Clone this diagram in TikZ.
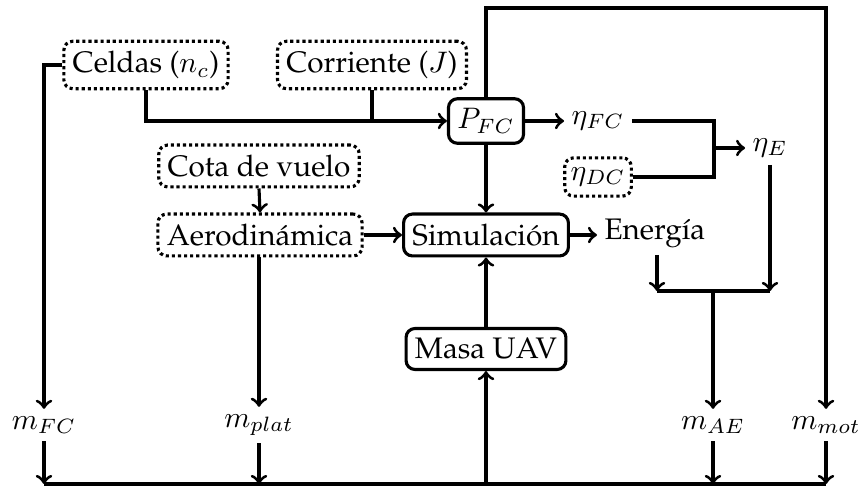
\documentclass[tikz,border=0pt]{standalone}
\usepackage[T1]{fontenc}
\usepackage{palatino}
\begin{document}
\begin{tikzpicture}[x=0.337pt,y=-0.337pt,line width=1.05pt,>=to,
  inbox/.style={draw,densely dotted,rounded corners=3pt,inner xsep=3pt,minimum height=14pt},
  procbox/.style={draw,solid,rounded corners=3pt,inner xsep=3pt,minimum height=13pt},
  lbl/.style={inner sep=2pt}]
\useasboundingbox (0,0) rectangle (858,486);
\node[inbox] (celdas) at (146,65) {Celdas ($n_c$)};
\node[inbox] (corriente) at (372,65) {Corriente ($J$)};
\node[procbox] (pfc) at (486,121) {$P_{FC}$};
\node[lbl] (etafc) at (598,121) {$\eta_{FC}$};
\node[inbox,minimum height=12pt,inner xsep=2pt] (etadc) at (598,177) {$\eta_{DC}$};
\node[lbl] (etaE) at (770,148) {$\eta_{E}$};
\node[inbox,minimum height=12.5pt] (cota) at (259,166) {Cota de vuelo};
\node[inbox,minimum height=13pt] (aero) at (260,235) {Aerodin\'amica};
\node[procbox] (sim) at (486,235) {Simulaci\'on};
\node[lbl,anchor=west] (energia) at (597,233) {Energ\'{\i}a};
\node[procbox] (masa) at (486,349) {Masa UAV};
\node[lbl] (mfc) at (44,425) {$m_{FC}$};
\node[lbl] (mplat) at (259,425) {$m_{plat}$};
\node[lbl] (mae) at (713,425) {$m_{AE}$};
\node[lbl] (mmot) at (826,425) {$m_{mot}$};
\coordinate (topc) at (826,8);
\coordinate (jn) at (714,148);
\coordinate (jl) at (657,291);
\coordinate (jm) at (713,291);
\coordinate (jr) at (770,291);
\coordinate (bl) at (44,484);
\coordinate (bm) at (486,484);
\coordinate (br) at (826,484);
% top part
\draw[->] (celdas.west) -| (mfc.north);
\draw[->] (celdas.south) |- (pfc.west);
\draw (corriente.south) -- (corriente.south |- pfc.west);
\draw[->] (pfc.north) |- (topc) -- (mmot.north);
\draw[->] (pfc.east) -- (etafc.west);
\draw[->] (pfc.south) -- (sim.north);
\draw (etafc.east) -| (jn) |- (etadc.east);
\draw[->] (jn) -- (etaE.west);
\draw[->] (cota.south) -- (aero.north);
\draw[->] (aero.east) -- (sim.west);
\draw[->] (sim.east) -- (sim.east -| energia.west);
\draw[->] (aero.south -| mplat.north) -- (mplat.north);
\draw[->] (masa.north) -- (sim.south);
% energy / efficiency merge
\draw[->] (etaE.south) -- (jr);
\draw[->] (jl |- energia.south) -- (jl);
\draw (jl) -- (jr);
\draw[->] (jm) -- (mae.north);
% bottom bus
\draw (bl) -- (br);
\draw[->] (mfc.south) -- (mfc.south |- bl);
\draw[->] (mplat.south) -- (mplat.south |- bl);
\draw[->] (mae.south) -- (mae.south |- bl);
\draw[->] (mmot.south) -- (mmot.south |- bl);
\draw[->] (bm) -- (masa.south);
\end{tikzpicture}
\end{document}
